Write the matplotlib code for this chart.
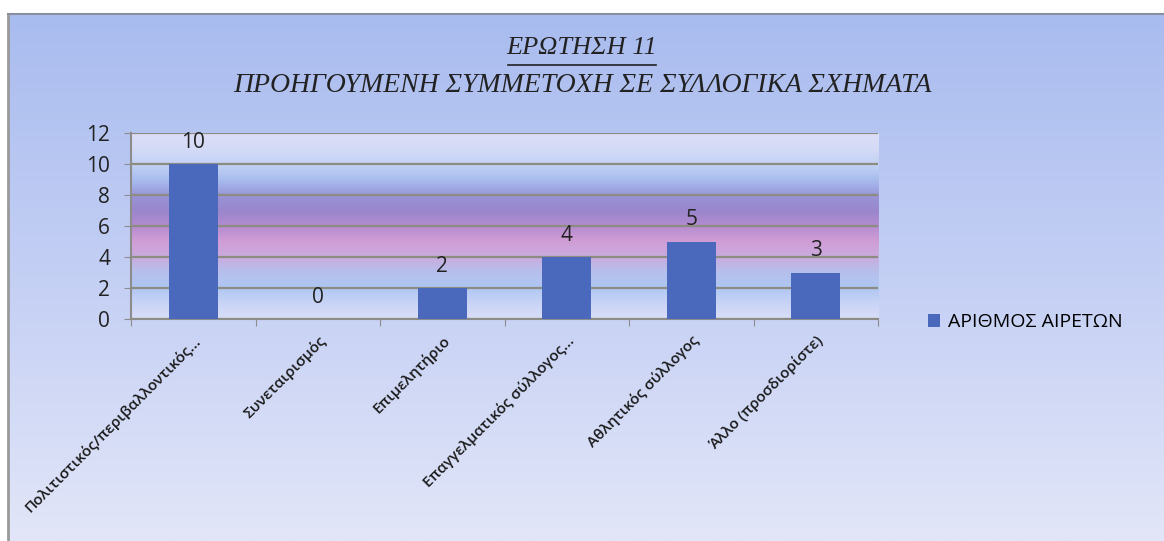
import matplotlib
matplotlib.use("Agg")
from matplotlib import pyplot as plt
from matplotlib.colors import LinearSegmentedColormap
import numpy as np

categories = ["Πολιτιστικός/περιβαλλοντικός...", "Συνεταιρισμός", "Επιμελητήριο",
              "Επαγγελματικός σύλλογος...", "Αθλητικός σύλλογος", "Άλλο (προσδιορίστε)"]
values = [10, 0, 2, 4, 5, 3]
series_name = "ΑΡΙΘΜΟΣ ΑΙΡΕΤΩΝ"
yticks = [0, 2, 4, 6, 8, 10, 12]

plt.rcParams['font.family'] = ['Open Sans', 'DejaVu Sans']

fig = plt.figure(figsize=(11.64, 5.41), dpi=100)
fig.patch.set_facecolor('white')

# chart background (gradient, top darker)
bg = fig.add_axes([8/1164, 0, 1 - 8/1164, (541-14)/541], zorder=0)
bg_cmap = LinearSegmentedColormap.from_list('bg', [
    (0.0, '#e2e6f8'), (0.5, '#c4cff4'), (1.0, '#a9bcef')])
bg.imshow(np.linspace(0, 1, 256).reshape(-1, 1), aspect='auto', cmap=bg_cmap,
          origin='lower', extent=[0, 1, 0, 1])
bg.set_xlim(0, 1); bg.set_ylim(0, 1)
bg.set_xticks([]); bg.set_yticks([])
for s in bg.spines.values():
    s.set_visible(False)
bg.spines['left'].set_visible(True)
bg.spines['left'].set_color('#9a9a9a')
bg.spines['left'].set_linewidth(2)
bg.spines['top'].set_visible(True)
bg.spines['top'].set_color('#8a8fa0')
bg.spines['top'].set_linewidth(1.5)

ax = fig.add_axes([131/1164, 1 - 319/541, (878-131)/1164, (319-133)/541], zorder=1)
ax.patch.set_alpha(0)

# plot area gradient
pa_cmap = LinearSegmentedColormap.from_list('pa', [
    (0.00, '#dadef8'), (0.08, '#c9d4f6'), (0.17, '#afc6f2'), (0.25, '#b6c0ec'),
    (0.33, '#c9acdf'), (0.42, '#d09dd6'), (0.50, '#b48cd0'), (0.58, '#9a86cc'),
    (0.66, '#9893d6'), (0.75, '#a8bdee'), (0.83, '#c3d2f5'), (0.92, '#d4dbf7'),
    (1.00, '#ddddf6')])
ax.imshow(np.linspace(0, 1, 256).reshape(-1, 1), aspect='auto', cmap=pa_cmap,
          origin='lower', extent=[-0.5, len(categories) - 0.5, 0, 12], zorder=0)

x = np.arange(len(categories))
ax.bar(x, values, width=0.39, color='#4a69bd', zorder=3, label=series_name)
for xi, v in zip(x, values):
    ax.annotate(str(v), (xi, v), xytext=(0, 8), textcoords='offset points',
                ha='center', va='bottom', fontsize=15, color='#222222', zorder=4)

ax.set_xlim(-0.5, len(categories) - 0.5)
ax.set_ylim(0, 12)
ax.set_yticks(yticks)
ax.set_yticklabels([str(t) for t in yticks], fontsize=15, color='#222222')
ax.yaxis.grid(True, color='#8c8c82', linewidth=1.6, zorder=1)
ax.set_axisbelow(False)
ax.set_xticks(np.arange(len(categories) + 1) - 0.5, minor=False)
ax.set_xticklabels([])
ax.set_xticks(x, minor=True)
ax.set_xticklabels(categories, minor=True, rotation=45, ha='right',
                   rotation_mode='anchor', fontsize=11, fontweight='semibold',
                   color='#1a1a1a')
ax.tick_params(axis='x', which='minor', length=0, pad=10)
ax.tick_params(axis='x', which='major', length=5, color='#8c8c8c', direction='out')
ax.tick_params(axis='y', length=5, color='#8c8c8c', direction='out', pad=10)
for s in ['top', 'right']:
    ax.spines[s].set_visible(False)
for s in ['left', 'bottom']:
    ax.spines[s].set_color('#8c8c8c')
    ax.spines[s].set_linewidth(1.5)

fig.text(0.5, 1 - 48/541, "ΕΡΩΤΗΣΗ 11", ha='center', va='center',
         family=['Liberation Serif', 'DejaVu Serif'], style='italic', fontsize=19,
         color='#222222')
fig.add_artist(plt.Line2D([508/1164, 656/1164], [1 - 65/541, 1 - 65/541],
                          color='#222222', linewidth=1.2))
fig.text(0.5, 1 - 85/541, "ΠΡΟΗΓΟΥΜΕΝΗ ΣΥΜΜΕΤΟΧΗ ΣΕ ΣΥΛΛΟΓΙΚΑ ΣΧΗΜΑΤΑ", ha='center',
         va='center', family=['Liberation Serif', 'DejaVu Serif'], style='italic',
         fontsize=20, color='#222222')

fig.legend(loc='center left', bbox_to_anchor=(910/1164, 1 - 322/541), frameon=False,
           fontsize=14, handlelength=0.65, handleheight=0.65, handletextpad=0.4)

fig.savefig('out.png', dpi=100)
